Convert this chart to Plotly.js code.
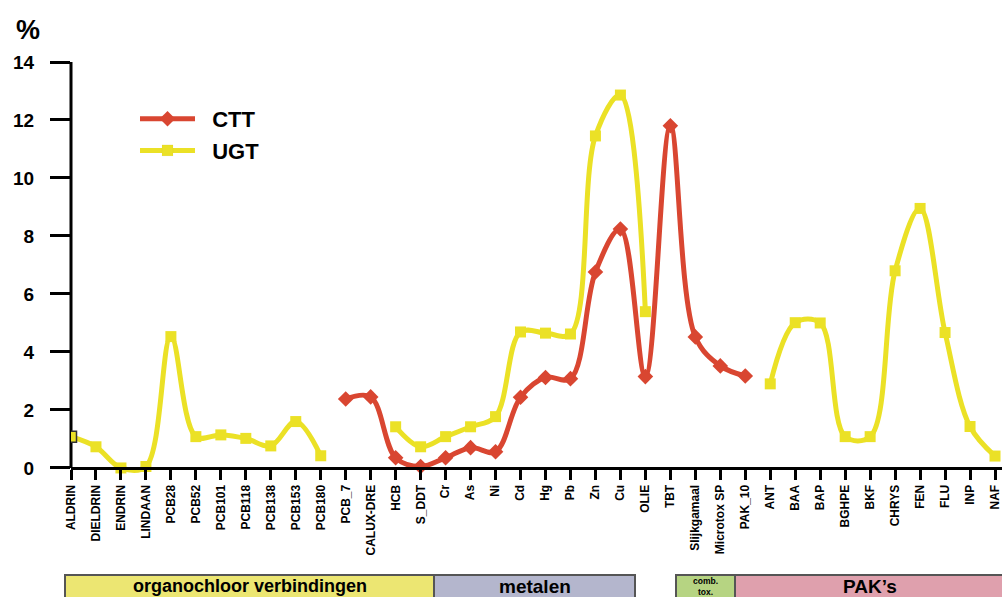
<!DOCTYPE html>
<html>
<head>
<meta charset="utf-8">
<script src="https://cdn.plot.ly/plotly-3.0.1.min.js"></script>
<style>
html,body{margin:0;padding:0;background:#fff;}
#chart{width:1002px;height:597px;}
</style>
</head>
<body>
<div id="chart"></div>
<script>
const categories = ["ALDRIN","DIELDRIN","ENDRIN","LINDAAN","PCB28","PCB52","PCB101","PCB118","PCB138","PCB153","PCB180",
  "PCB_7","CALUX-DRE","HCB","S_DDT","Cr","As","Ni","Cd","Hg","Pb","Zn","Cu","OLIE",
  "TBT","Slijkgamaal","Microtox SP","PAK_10",
  "ANT","BAA","BAP","BGHPE","BKF","CHRYS","FEN","FLU","INP","NAF"];

const ctt = [null,null,null,null,null,null,null,null,null,null,null,
  2.38,2.45,0.35,0.05,0.35,0.7,0.56,2.44,3.12,3.08,6.76,8.24,3.15,
  11.8,4.52,3.52,3.17,
  null,null,null,null,null,null,null,null,null,null];

const ugt = [1.08,0.73,0.0,0.05,4.53,1.08,1.14,1.02,0.76,1.6,0.42,
  null,null,1.42,0.73,1.08,1.42,1.77,4.69,4.65,4.62,11.45,12.86,5.39,
  null,null,null,null,
  2.9,5.01,5.0,1.08,1.08,6.8,8.95,4.67,1.43,0.41];

const yTicks = [0,2,4,6,8,10,12,14];

const groupLabels = ["organochloor verbindingen", "metalen", "comb.<br>tox.", "PAK’s"];
const groupColors = ["#ece672", "#b4b6cd", "#b6d482", "#dfa0ad"];

const idx = categories.map((c,i)=>i);
const FONT = "Liberation Sans, Arial, Helvetica, sans-serif";

const traces = [
  {x: idx, y: ctt, name: "\u00a0\u00a0CTT", type: "scatter", mode: "lines+markers",
   connectgaps: false,
   line: {color: "#d94631", width: 5, shape: "spline", smoothing: 1},
   marker: {symbol: "diamond", size: 12, color: "#d94631"}},
  {x: idx, y: ugt, name: "\u00a0\u00a0UGT", type: "scatter", mode: "lines+markers",
   connectgaps: false,
   line: {color: "#ebe126", width: 5, shape: "spline", smoothing: 1},
   marker: {symbol: "square", size: 11, color: "#ebe126",
     line: {color: ugt.map((v,i)=> i===0 ? "#333" : "#ebe126"), width: ugt.map((v,i)=> i===0 ? 1.5 : 0)}}}
];

const plotLeft = 71, plotW = 931;
const plotBottom = 481, plotTop = 62;
const H = plotBottom - plotTop;
const py = (pix) => (plotBottom - pix) / H;
const px = (pix) => (pix - plotLeft) / plotW;

// group box edges in pixels and label font size (layout styling)
const boxes = [[65,434,18],[434,635,19],[676,735,8.5],[735,1004,19]];

const shapes = [
  {type:"line", xref:"paper", yref:"y", x0:0, x1:0, y0:0, y1:14, line:{color:"#000", width:3}, layer:"below"}
];
const annotations = [
  {text:"%", xref:"paper", yref:"paper", x:px(28), y:py(30), xanchor:"center", yanchor:"middle",
   showarrow:false, font:{family:FONT, size:27, color:"#000", weight:"bold"}}
];
groupLabels.forEach((lab,i)=>{
  const b = boxes[i];
  shapes.push({type:"rect", xref:"paper", yref:"paper", x0:px(b[0]), x1:px(b[1]), y0:py(575), y1:py(605),
    fillcolor:groupColors[i], line:{color:"#555", width:2}, layer:"above"});
  annotations.push({text:lab, xref:"paper", yref:"paper", x:px((b[0]+b[1])/2),
    y: py(586), yanchor:"middle", xanchor:"center",
    showarrow:false, borderpad:0,
    font:{family:FONT, size:b[2], color:"#000", weight:"bold"}});
});

const layout = {
  width:1002, height:597,
  margin:{l:plotLeft, r:0, t:plotTop, b:597-plotBottom},
  paper_bgcolor:"#fff", plot_bgcolor:"#fff",
  font:{family:FONT, color:"#000"},
  showlegend:true,
  legend:{x:px(135), y:py(98), xanchor:"left", yanchor:"top",
    font:{family:FONT, size:22, color:"#000", weight:"bold"}, itemwidth:55,
    bgcolor:"rgba(0,0,0,0)", tracegroupgap:0},
  xaxis:{
    range:[0, 37.28], anchor:"free", position: (plotBottom-468)/H,
    tickmode:"array", tickvals: idx, ticktext: categories,
    tickangle:-90, ticks:"outside", ticklen:10, tickwidth:3, tickcolor:"#000",
    showline:true, linewidth:3, linecolor:"#000", showgrid:false, zeroline:false,
    tickfont:{family:FONT, size:12, color:"#000", weight:"bold"}
  },
  yaxis:{
    range:[-0.45, 14], tickmode:"array", tickvals:yTicks,
    ticks:"outside", ticklen:20, tickwidth:3, tickcolor:"#000",
    showline:false, showgrid:false, zeroline:false, ticklabelstandoff:12,
    tickfont:{family:FONT, size:19, color:"#000", weight:"bold"}
  },
  shapes: shapes,
  annotations: annotations
};

Plotly.newPlot("chart", traces, layout, {displayModeBar:false, staticPlot:true});
</script>
</body>
</html>
